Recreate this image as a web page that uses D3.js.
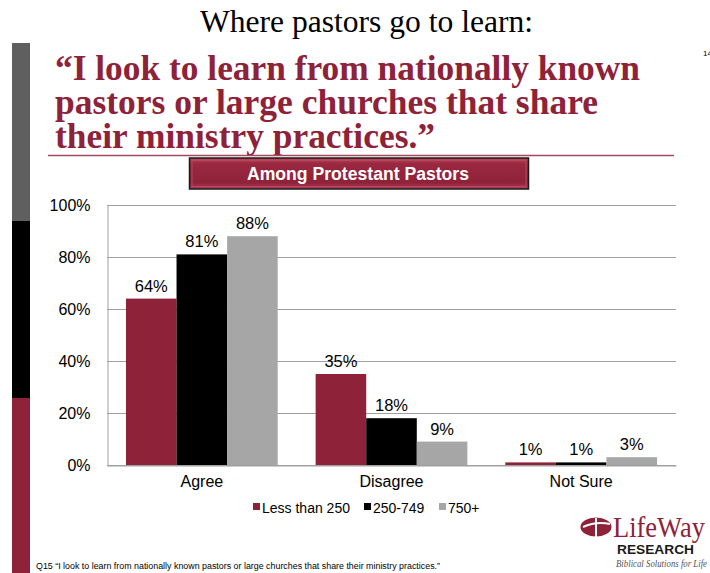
<!DOCTYPE html>
<html>
<head>
<meta charset="utf-8">
<script src="https://cdn.jsdelivr.net/npm/d3@7"></script>
<style>
  html, body { margin: 0; padding: 0; background: #fff; }
  svg { display: block; }
</style>
</head>
<body>
<svg id="chart" width="710" height="573"></svg>
<script>
// Survey responses by church size (percent)
const categories = ["Agree", "Disagree", "Not Sure"];
const seriesNames = ["Less than 250", "250-749", "750+"];
const lessThan250 = [64, 35, 1];
const from250to749 = [81, 18, 1];
const over750 = [88, 9, 3];
const yTicks = [0, 20, 40, 60, 80, 100];

const seriesValues = [lessThan250, from250to749, over750];
const colors = ["#8E2239", "#000000", "#A6A6A6"];
const maroon = "#8E2239";

const svg = d3.select("#chart");

// Decorative side strip
const strip = [
  { y0: 43, y1: 221, c: "#5F5F5F" },
  { y0: 221, y1: 398, c: "#000000" },
  { y0: 398, y1: 573, c: "#8E2239" }
];
svg.selectAll("rect.strip").data(strip).join("rect")
  .attr("class", "strip")
  .attr("x", 12).attr("width", 18)
  .attr("y", d => d.y0).attr("height", d => d.y1 - d.y0)
  .attr("fill", d => d.c);

// Headings
svg.append("text")
  .attr("x", 200).attr("y", 32)
  .attr("font-family", "Liberation Serif, Times New Roman, serif")
  .attr("font-size", 32)
  .attr("textLength", 333)
  .attr("lengthAdjust", "spacingAndGlyphs")
  .attr("fill", "#000")
  .text("Where pastors go to learn:");

svg.append("text")
  .attr("x", 703).attr("y", 56)
  .attr("font-family", "Liberation Sans, Arial, sans-serif")
  .attr("font-size", 8)
  .attr("fill", "#000")
  .text("14");

const quoteLines = [
  { text: "\u201CI look to learn from nationally known", width: 585 },
  { text: "pastors or large churches that share", width: 543 },
  { text: "their ministry practices.\u201D", width: 380 }
];
svg.selectAll("text.quote").data(quoteLines).join("text")
  .attr("class", "quote")
  .attr("x", 55)
  .attr("y", (d, i) => 80 + i * 34)
  .attr("font-family", "Liberation Serif, Times New Roman, serif")
  .attr("font-weight", "bold")
  .attr("font-size", 36)
  .attr("textLength", d => d.width)
  .attr("lengthAdjust", "spacingAndGlyphs")
  .attr("fill", maroon)
  .text(d => d.text);

svg.append("line")
  .attr("x1", 48).attr("x2", 674)
  .attr("y1", 155.5).attr("y2", 155.5)
  .attr("stroke", "#A04A5C").attr("stroke-width", 1.5);

// Subgroup banner
const defs = svg.append("defs");
const grad = defs.append("linearGradient")
  .attr("id", "bannerFill")
  .attr("x1", 0).attr("y1", 0).attr("x2", 0).attr("y2", 1);
grad.append("stop").attr("offset", "0%").attr("stop-color", "#C04A60");
grad.append("stop").attr("offset", "18%").attr("stop-color", "#9A2840");
grad.append("stop").attr("offset", "80%").attr("stop-color", "#8E2239");
grad.append("stop").attr("offset", "100%").attr("stop-color", "#B2405A");

svg.append("rect")
  .attr("x", 189.5).attr("y", 158)
  .attr("width", 339).attr("height", 31)
  .attr("fill", "url(#bannerFill)")
  .attr("stroke", "#1a1a1a").attr("stroke-width", 1.5);
svg.append("rect")
  .attr("x", 192).attr("y", 160.5)
  .attr("width", 334).attr("height", 26)
  .attr("fill", "none")
  .attr("stroke", "#B8475C").attr("stroke-width", 1);
svg.append("text")
  .attr("x", 247).attr("y", 180)
  .attr("font-family", "Liberation Sans, Arial, sans-serif")
  .attr("font-weight", "bold")
  .attr("font-size", 17.5)
  .attr("textLength", 222)
  .attr("lengthAdjust", "spacingAndGlyphs")
  .attr("fill", "#fff")
  .text("Among Protestant Pastors");

// Plot area
const plot = { left: 107, right: 676, top: 205, bottom: 465 };

const x0 = d3.scaleBand()
  .domain(categories)
  .range([plot.left, plot.right])
  .paddingInner(0.2)
  .paddingOuter(0.1);

const x1 = d3.scaleBand()
  .domain(seriesNames)
  .range([0, x0.bandwidth()]);

const y = d3.scaleLinear()
  .domain([0, 100])
  .range([plot.bottom, plot.top]);

// Gridlines
svg.append("g")
  .selectAll("line").data(yTicks).join("line")
  .attr("x1", plot.left).attr("x2", plot.right)
  .attr("y1", d => Math.round(y(d)) + 0.5)
  .attr("y2", d => Math.round(y(d)) + 0.5)
  .attr("stroke", "#A0A0A0").attr("stroke-width", 1);

// Y axis
const yAxis = svg.append("g")
  .attr("transform", `translate(${plot.left + 0.5},0)`)
  .call(d3.axisLeft(y).tickValues(yTicks).tickFormat(d => d + "%").tickSize(0).tickPadding(17));
yAxis.select(".domain").attr("stroke", "#A0A0A0");
yAxis.selectAll("text")
  .attr("font-family", "Liberation Sans, Arial, sans-serif")
  .attr("font-size", 16)
  .attr("fill", "#000");

// Bars
const rows = categories.map((c, i) => ({
  category: c,
  values: seriesNames.map((s, j) => ({ series: s, value: seriesValues[j][i], color: colors[j] }))
}));

const groups = svg.append("g").selectAll("g").data(rows).join("g")
  .attr("transform", d => `translate(${x0(d.category)},0)`);

groups.selectAll("rect").data(d => d.values).join("rect")
  .attr("x", d => x1(d.series))
  .attr("width", x1.bandwidth())
  .attr("y", d => y(d.value))
  .attr("height", d => y(0) - y(d.value))
  .attr("fill", d => d.color);

groups.selectAll("text").data(d => d.values).join("text")
  .attr("x", d => x1(d.series) + x1.bandwidth() / 2)
  .attr("y", d => y(d.value) - 7)
  .attr("text-anchor", "middle")
  .attr("font-family", "Liberation Sans, Arial, sans-serif")
  .attr("font-size", 16.5)
  .attr("fill", "#000")
  .text(d => d.value + "%");

// X axis
const xAxis = svg.append("g")
  .attr("transform", `translate(0,${plot.bottom + 0.5})`)
  .call(d3.axisBottom(x0).tickSize(0).tickPadding(10).tickSizeOuter(0));
xAxis.select(".domain").attr("stroke", "#A0A0A0");
xAxis.selectAll("text")
  .attr("font-family", "Liberation Sans, Arial, sans-serif")
  .attr("font-size", 16)
  .attr("fill", "#000");

// Legend
const legendX = [253, 364, 439];
const legend = svg.append("g").selectAll("g").data(seriesNames).join("g")
  .attr("transform", (d, i) => `translate(${legendX[i]},508)`);
legend.append("rect")
  .attr("x", 0).attr("y", -5)
  .attr("width", 7).attr("height", 7)
  .attr("fill", (d, i) => colors[i]);
legend.append("text")
  .attr("x", 9).attr("y", 5)
  .attr("font-family", "Liberation Sans, Arial, sans-serif")
  .attr("font-size", 14)
  .attr("fill", "#000")
  .text(d => d);

// Footnote
svg.append("text")
  .attr("x", 36).attr("y", 569)
  .attr("font-family", "Liberation Sans, Arial, sans-serif")
  .attr("font-size", 8.5)
  .attr("textLength", 404)
  .attr("lengthAdjust", "spacingAndGlyphs")
  .attr("fill", "#000")
  .text("Q15 \u201CI look to learn from nationally known pastors or large churches that share their ministry practices.\u201D");

// Brand mark
const logo = svg.append("g");
logo.append("ellipse")
  .attr("cx", 596).attr("cy", 527)
  .attr("rx", 15.5).attr("ry", 9.5)
  .attr("fill", maroon);
logo.append("path")
  .attr("d", "M583,527 Q596,521 610,524 M596,518 L596,537")
  .attr("stroke", "#fff").attr("stroke-width", 2).attr("fill", "none");
logo.append("text")
  .attr("x", 613).attr("y", 537)
  .attr("font-family", "Liberation Serif, Times New Roman, serif")
  .attr("font-size", 29)
  .attr("textLength", 92)
  .attr("lengthAdjust", "spacingAndGlyphs")
  .attr("fill", maroon)
  .text("LifeWay");
logo.append("text")
  .attr("x", 617).attr("y", 554)
  .attr("font-family", "Liberation Sans, Arial, sans-serif")
  .attr("font-weight", "bold")
  .attr("font-size", 12)
  .attr("textLength", 77)
  .attr("lengthAdjust", "spacingAndGlyphs")
  .attr("fill", "#1a1a1a")
  .text("RESEARCH");
logo.append("text")
  .attr("x", 616).attr("y", 567)
  .attr("font-family", "Liberation Serif, Times New Roman, serif")
  .attr("font-style", "italic")
  .attr("font-size", 10)
  .attr("textLength", 91)
  .attr("lengthAdjust", "spacingAndGlyphs")
  .attr("fill", "#555")
  .text("Biblical Solutions for Life");
</script>
</body>
</html>
